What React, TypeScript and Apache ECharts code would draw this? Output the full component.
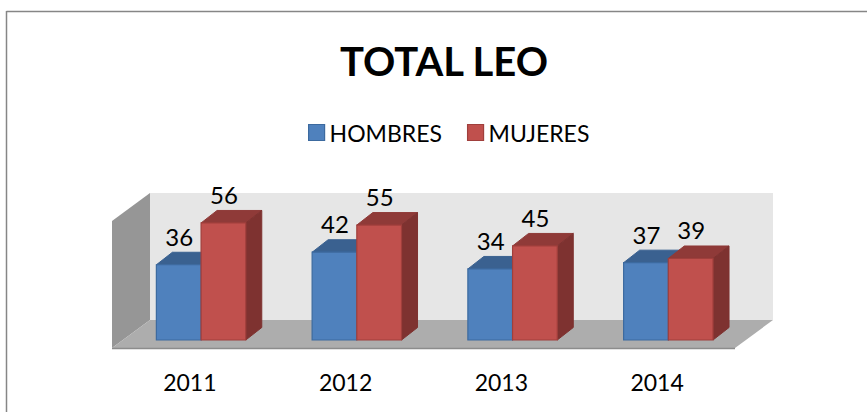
import React, { useEffect, useRef } from "react";
import * as echarts from "echarts";

const categories = ["2011", "2012", "2013", "2014"];
const hombres = [36, 42, 34, 37];
const mujeres = [56, 55, 45, 39];
const FONT = "Lato";

const bar3d = (face: string, top: string, side: string, stroke: string, place: number) =>
  (params: any, api: any) => {
    const cat = api.value(0);
    const val = api.value(1);
    const [cx, yTop] = api.coord([cat, val]);
    const [, yBase] = api.coord([cat, 0]);
    const w = 44.7;
    const dx = 16;
    const dy = 12.5;
    const x0 = cx + 11.2 + (place === 0 ? -w : 0);
    const x1 = x0 + w;
    return {
      type: "group",
      children: [
        { type: "polygon", shape: { points: [[x0, yTop], [x1, yTop], [x1 + dx, yTop - dy], [x0 + dx, yTop - dy]] }, style: { fill: top, stroke: top, lineWidth: 1 } },
        { type: "polygon", shape: { points: [[x1, yTop], [x1 + dx, yTop - dy], [x1 + dx, yBase - dy], [x1, yBase]] }, style: { fill: side, stroke: side, lineWidth: 1 } },
        { type: "rect", shape: { x: x0, y: yTop, width: w, height: yBase - yTop }, style: { fill: face, stroke, lineWidth: 1.2 } },
        { type: "text", x: (x0 + x1) / 2 + 0.5, y: yTop - 28.5, style: { text: String(val), fill: "#000", font: `24px ${FONT}`, align: "center", verticalAlign: "middle" } },
      ],
    };
  };

export default function App() {
  const ref = useRef<HTMLDivElement>(null);
  useEffect(() => {
    document.body.style.margin = "0";
    document.body.style.background = "#fff";
    const chart = echarts.init(ref.current!, undefined, { renderer: "svg" });
    chart.setOption({
      animation: false,
      backgroundColor: "#fff",
      title: {
        text: "TOTAL LEO",
        left: 439,
        top: 36,
        textAlign: "center",
        textStyle: { fontFamily: FONT, fontWeight: "bold", fontSize: 40, color: "#000" },
      },
      legend: {
        left: 303,
        top: 116,
        itemWidth: 16,
        itemHeight: 16,
        itemGap: 25,
        icon: "rect",
        selectedMode: false,
        textStyle: { fontFamily: FONT, fontSize: 23, color: "#000" },
        data: [
          { name: "HOMBRES", itemStyle: { color: "#4F81BD", borderColor: "#3C6A9F", borderWidth: 1.2 } },
          { name: "MUJERES", itemStyle: { color: "#C0504D", borderColor: "#A03F3C", borderWidth: 1.2 } },
        ],
      },
      grid: { left: 112, width: 623, top: 214.6, height: 125.4 },
      xAxis: {
        type: "category",
        data: categories,
        axisLine: { show: false },
        axisTick: { show: false },
        axisLabel: { margin: 30, fontFamily: FONT, fontSize: 23, color: "#000" },
      },
      yAxis: { type: "value", min: 0, max: 60, show: false, splitLine: { show: false } },
      graphic: [
        { type: "line", z: 0, shape: { x1: 6.5, y1: 11.5, x2: 867, y2: 11.5 }, style: { stroke: "#868686", lineWidth: 1.5 } },
        { type: "line", z: 0, shape: { x1: 6.5, y1: 11, x2: 6.5, y2: 412 }, style: { stroke: "#868686", lineWidth: 1.5 } },
        { type: "polygon", z: 0, shape: { points: [[150, 193], [773, 193], [773, 320], [150, 320]] }, style: { fill: "#E6E6E6" } },
        { type: "polygon", z: 0, shape: { points: [[112, 221], [150, 193], [150, 320], [112, 348]] }, style: { fill: "#969696" } },
        { type: "polygon", z: 0, shape: { points: [[112, 348], [150, 320], [773, 320], [735, 348]] }, style: { fill: "#ADADAD" } },
        { type: "line", z: 0, shape: { x1: 112, y1: 348.5, x2: 735, y2: 348.5 }, style: { stroke: "#8C8C8C", lineWidth: 1.5 } },
      ],
      series: [
        {
          name: "HOMBRES",
          type: "custom",
          renderItem: bar3d("#4F81BD", "#3A6190", "#2F4F75", "#3C6A9F", 0),
          data: hombres.map((v, i) => [i, v]),
          itemStyle: { color: "#4F81BD" },
          z: 2,
        },
        {
          name: "MUJERES",
          type: "custom",
          renderItem: bar3d("#C0504D", "#8F3A38", "#7E3230", "#A03F3C", 1),
          data: mujeres.map((v, i) => [i, v]),
          itemStyle: { color: "#C0504D" },
          z: 3,
        },
      ],
    });
    return () => chart.dispose();
  }, []);
  return <div ref={ref} style={{ width: 867, height: 412 }} />;
}
